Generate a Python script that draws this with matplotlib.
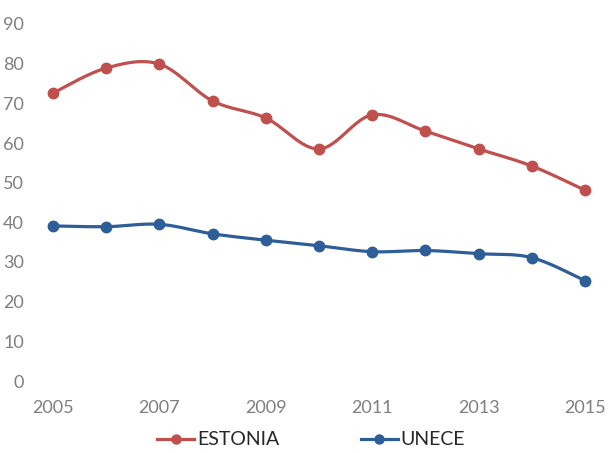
import numpy as np
import matplotlib
matplotlib.use("Agg")
import matplotlib.pyplot as plt
from matplotlib.lines import Line2D

years = [2005, 2006, 2007, 2008, 2009, 2010, 2011, 2012, 2013, 2014, 2015]
estonia = [72.6, 78.9, 79.9, 70.6, 66.3, 58.5, 67.1, 63.0, 58.5, 54.2, 48.1]
unece = [39.1, 38.9, 39.5, 37.1, 35.5, 34.1, 32.6, 32.9, 32.1, 31.1, 25.3]
series_names = ["ESTONIA", "UNECE"]
series_colors = ["#C0504D", "#2E5E97"]
xticks = [2005, 2007, 2009, 2011, 2013, 2015]
yticks = [0, 10, 20, 30, 40, 50, 60, 70, 80, 90]

plt.rcParams['font.family'] = ['Lato', 'DejaVu Sans']


def smooth(x, y, n=30):
  # excel style smoothed line: catmull-rom converted to bezier segments
  x = np.asarray(x, float)
  y = np.asarray(y, float)
  px = np.concatenate([[x[0]], x, [x[-1]]])
  py = np.concatenate([[y[0]], y, [y[-1]]])
  t = np.linspace(0, 1, n)
  xs, ys = [], []
  for i in range(1, len(px) - 2):
    p0 = np.array([px[i], py[i]])
    p3 = np.array([px[i + 1], py[i + 1]])
    c1 = p0 + (np.array([px[i + 1], py[i + 1]]) - np.array([px[i - 1], py[i - 1]])) / 6
    c2 = p3 - (np.array([px[i + 2], py[i + 2]]) - np.array([px[i], py[i]])) / 6
    b = ((1 - t) ** 3)[:, None] * p0 + (3 * (1 - t) ** 2 * t)[:, None] * c1 \
        + (3 * (1 - t) * t ** 2)[:, None] * c2 + (t ** 3)[:, None] * p3
    xs.extend(b[:, 0])
    ys.extend(b[:, 1])
  return np.array(xs), np.array(ys)


fig = plt.figure(figsize=(6.08, 4.53), dpi=100)
ax = fig.add_axes([53 / 608, 1 - 381 / 453, 532 / 608, 357 / 453])

handles = []
for vals, name, col in zip([estonia, unece], series_names, series_colors):
  sx, sy = smooth(years, vals)
  ax.plot(sx, sy, color=col, lw=2.3, clip_on=False, solid_capstyle='round')
  ax.plot(years, vals, 'o', color=col, ms=7.5, clip_on=False)
  handles.append(Line2D([], [], color=col, lw=2.3, marker='o', ms=6.5))

ax.set_xlim(2005, 2015)
ax.set_ylim(0, 90)
ax.set_xticks(xticks)
ax.set_yticks(yticks)
for s in ax.spines.values():
  s.set_visible(False)
ax.tick_params(axis='both', length=0, labelsize=13, colors='#7F7F7F')
ax.tick_params(axis='y', pad=21)
ax.tick_params(axis='x', pad=14)

fig.legend(handles, series_names, loc='center', bbox_to_anchor=(0.512, 0.029),
           ncol=2, frameon=False, fontsize=14, handlelength=1.9,
           handletextpad=0.15, columnspacing=4.2, labelcolor='#262626')

fig.savefig('out.png', dpi=100)
